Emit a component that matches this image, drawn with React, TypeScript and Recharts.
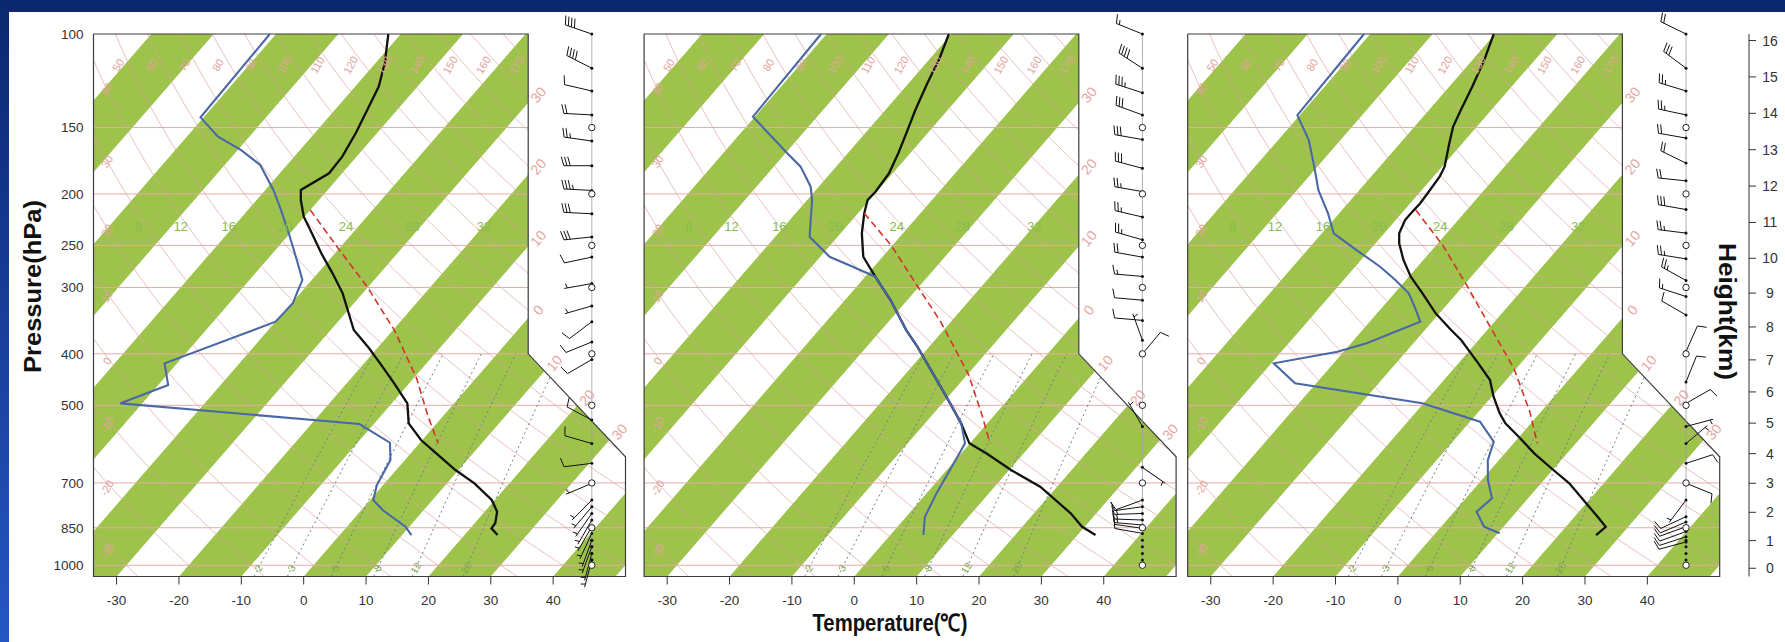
import React from 'react';
import { ComposedChart, XAxis, YAxis, Line, Area, Scatter } from 'recharts';

// ---------- axes ----------
const pressureTicks = [100, 150, 200, 250, 300, 400, 500, 700, 850, 1000];
const temperatureTicks = [-30, -20, -10, 0, 10, 20, 30, 40];
const heightKm = [0, 1, 2, 3, 4, 5, 6, 7, 8, 9, 10, 11, 12, 13, 14, 15, 16];

// ---------- diagram background definitions ----------
const isobarLevels = [150, 200, 250, 300, 400, 500, 700, 850, 1000];
const greenBandStarts = [-100, -80, -60, -40, -20, 0, 20, 40];
const dryThetas = [-30, -20, -10, 0, 10, 20, 30, 40, 50, 60, 70, 80, 90, 100, 110, 120, 130, 140, 150, 160, 170];
const mixingRatios = [2, 3, 5, 8, 12, 20];
const moistLabels = [8, 12, 16, 20, 24, 28, 32];
const moistLabelX = [-26.5, -19.7, -12.0, -3.0, 6.8, 17.4, 28.9];
const edgeIsotherms = [-30, -20, -10, 0, 10, 20, 30];
const mandatoryLevels = [150, 200, 250, 300, 400, 500, 700, 850, 1000];
const lowDots = [897, 923, 950, 978, 1000];

// ---------- sounding 1 ----------
const s1TempP = [100, 113.5, 125.7, 139, 153.8, 170.2, 182.9, 196.6, 205.4, 220.8, 237.2, 258.7, 282.2, 307.7, 360.8, 390.5, 422.9, 454.5, 495.7, 540.6, 581.1, 615.6, 661.8, 701.1, 753.8, 793, 833.8, 852.1, 877.2];
const s1TempT = [-62.0, -58.5, -56.2, -54.8, -53.4, -52.3, -52.1, -54.3, -52.9, -50.1, -46.5, -42.2, -37.6, -33.2, -26.3, -21.3, -16.6, -12.4, -7.5, -4.5, -0.2, 4.1, 9.5, 14.4, 19.5, 22.0, 23.3, 23.4, 25.3];
const s1DewP = [100, 143.5, 156.1, 165.3, 176.4, 196.6, 214.4, 237.2, 266.3, 290.5, 303.3, 321.3, 348, 416.8, 457.9, 495.7, 542.2, 588, 634, 706.3, 753.8, 787.2, 846.4, 877.2];
const s1DewT = [-81.0, -80.5, -75.0, -69.5, -64.3, -58.7, -54.7, -50.2, -45.2, -41.5, -40.8, -39.8, -40.0, -52.0, -48.4, -53.5, -12.3, -4.8, -2.3, -1.0, 0.5, 3.4, 9.4, 11.5];
const s1ParcelP = [214.4, 251.4, 299, 360.8, 444.8, 525.3, 589.5];
const s1ParcelT = [-50.0, -40.6, -30.2, -19.8, -9.5, -2.3, 3.0];
const s1BarbP = [100, 116, 128, 142, 159, 177, 197, 218, 241, 263, 295, 325, 348, 380, 410, 533, 590, 643, 701, 754, 776, 799, 822, 846, 871, 897, 923, 950, 978];
const s1BarbDir = [289, 297, 283, 273, 278, 270, 273, 273, 264, 258, 260, 254, 233, 248, 240, 298, 286, 263, 247, 225, 220, 215, 210, 210, 205, 200, 200, 195, 195];
const s1BarbSpd = [40, 40, 10, 20, 25, 30, 35, 30, 30, 10, 5, 5, 10, 10, 10, 10, 10, 10, 5, 5, 5, 5, 5, 5, 5, 5, 5, 5, 5];

// ---------- sounding 2 ----------
const s2TempP = [100, 111.9, 123.8, 139, 153.8, 167.7, 182.9, 198.1, 205.4, 217.5, 237.2, 262.6, 286.3, 316.8, 360.8, 387.8, 435.3, 488.7, 540.6, 589.5, 615.6, 661.8, 711.5, 798.5, 846.4, 877.2];
const s2TempT = [-60.4, -58.4, -57.0, -55.2, -53.4, -51.9, -50.6, -50.2, -50.3, -49.0, -46.6, -43.1, -38.4, -32.7, -26.0, -21.9, -15.7, -9.5, -4.2, -0.1, 4.0, 10.3, 17.3, 25.9, 29.6, 32.9];
const s2DewP = [100, 143.1, 153.8, 167.7, 177.7, 193.8, 205.4, 240.8, 262.6, 274.2, 286.3, 316.8, 360.8, 387.8, 435.3, 488.7, 540.6, 589.5, 615.6, 661.8, 732.2, 810.4, 877.2];
const s2DewT = [-80.9, -80.3, -75.5, -69.7, -65.7, -61.3, -59.2, -54.5, -48.5, -43.4, -38.4, -32.7, -26.0, -21.9, -15.7, -9.5, -4.2, -0.8, -0.3, 0.5, 1.6, 3.0, 5.3];
const s2ParcelP = [217.5, 249.6, 299, 347, 438.5, 525.3, 589.5];
const s2ParcelT = [-49.0, -40.3, -30.2, -21.8, -9.7, -1.7, 3.2];
const s2BarbP = [100, 116, 129, 142, 158, 179, 198, 221, 244, 263, 286, 317, 346, 377, 400, 548, 654, 754, 776, 799, 822, 840, 852, 871];
const s2BarbDir = [292, 303, 288, 290, 280, 285, 280, 283, 286, 280, 275, 275, 275, 340, 40, 330, 125, 250, 262, 268, 272, 275, 278, 280];
const s2BarbSpd = [15, 40, 35, 30, 30, 30, 25, 25, 25, 20, 15, 10, 10, 5, 10, 5, 5, 10, 10, 15, 15, 15, 10, 10];

// ---------- sounding 3 ----------
const s3TempP = [100, 111.9, 125.7, 139, 149.5, 160.6, 177.7, 185.6, 196.6, 208.3, 217.5, 224, 237.2, 247.8, 266.3, 286.3, 307.7, 335.6, 360.8, 376.7, 416.8, 448.1, 481.7, 517.7, 540.6, 572.9, 615.6, 661.8, 701.1, 764.7, 810.4, 846.4, 877.2];
const s3TempT = [-60.2, -58.1, -56.3, -54.9, -53.8, -52.1, -49.6, -49.0, -48.7, -48.4, -48.5, -48.5, -47.6, -46.2, -43.2, -39.7, -35.5, -30.6, -25.8, -22.8, -16.8, -12.6, -9.7, -6.4, -4.1, -0.1, 4.7, 10.1, 14.5, 20.0, 23.7, 26.4, 26.0];
const s3DewP = [100, 142.1, 158.3, 177.7, 196.6, 217.5, 237.2, 255.1, 274.2, 290.5, 307.7, 326.1, 348, 382.2, 396.4, 416.8, 454.5, 495.7, 536.8, 585.5, 634, 691.2, 748.3, 793, 846.4, 870.8];
const s3DewT = [-81.0, -80.4, -75.1, -70.5, -66.6, -61.8, -58.1, -52.1, -46.0, -41.7, -37.7, -34.9, -31.9, -37.5, -41.0, -49.6, -43.4, -20.2, -8.4, -3.4, -1.8, 1.0, 4.2, 3.6, 6.9, 10.3];
const s3ParcelP = [214.4, 249.6, 299, 353, 425.9, 514, 589.5];
const s3ParcelT = [-48.2, -39.0, -29.2, -20.4, -10.4, -1.8, 3.8];
const s3BarbP = [100, 116, 128, 142, 157, 175, 189, 214, 237, 265, 291, 312, 338, 396, 452, 496, 548, 590, 643, 701, 754, 810, 829, 846, 864, 884, 904];
const s3BarbDir = [296, 307, 287, 282, 280, 296, 276, 280, 277, 279, 299, 288, 300, 24, 22, 60, 75, 50, 72, 112, 217, 245, 247, 250, 250, 252, 255];
const s3BarbSpd = [20, 30, 25, 25, 20, 20, 20, 30, 25, 25, 25, 15, 10, 10, 10, 10, 5, 5, 10, 10, 5, 10, 10, 10, 10, 10, 10];

// ---------- skew-T geometry ----------
type Pt = { x: number; u: number };
const P_TOP = 100, P_BOT = 1050, P_NOTCH = 400, P_DIAG = 625;
const X_MIN = -33.7, X_NOTCH = 36, X_MAX = 51.6;
const SKEW = 32.14;
const STAFF_X = 46.2;
const PX_PER_DEG = 532 / (X_MAX - X_MIN);
const U_TOP = Math.log(P_TOP), U_BOT = Math.log(P_BOT), U_NOTCH = Math.log(P_NOTCH), U_DIAG = Math.log(P_DIAG);
const DIAG_K = (X_MAX - X_NOTCH) / (U_DIAG - U_NOTCH);
const FONT = '"Liberation Sans", Arial, Helvetica, sans-serif';

const skewX = (t: number, p: number) => t + SKEW * Math.log(P_BOT / p);
const tempOf = (q: Pt) => q.x - SKEW * (U_BOT - q.u);
const rightEdge = (u: number) => (u <= U_NOTCH ? X_NOTCH : u >= U_DIAG ? X_MAX : X_NOTCH + DIAG_K * (u - U_NOTCH));
const inside = (q: Pt) =>
  q.u >= U_TOP - 1e-9 && q.u <= U_BOT + 1e-9 && q.x >= X_MIN - 1e-9 && q.x <= rightEdge(q.u) + 1e-9;
const clampP = (p: number) => Math.min(P_BOT, Math.max(P_TOP, p));
const datum = (q: Pt) => ({ x: Math.max(X_MIN, q.x), p: clampP(Math.exp(q.u)) });

const dryT = (theta: number, p: number) => (theta + 273.15) * Math.pow(p / 1000, 0.2857) - 273.15;
const mixT = (w: number, p: number) => {
  const e = (w * p) / (622 + w);
  const l = Math.log(e / 6.112);
  return (243.5 * l) / (17.67 - l);
};
const kmToP = (z: number) =>
  z <= 11 ? 1013.25 * Math.pow(1 - 2.25577e-5 * z * 1000, 5.25588) : 226.32 * Math.exp(-((z - 11) * 1000) / 6341.6);

function sampleCurve(tOf: (p: number) => number, pA: number, pB: number, n: number): Pt[] {
  const pts: Pt[] = [];
  const u0 = Math.log(pA), u1 = Math.log(pB);
  for (let i = 0; i <= n; i++) {
    const u = u0 + ((u1 - u0) * i) / n;
    const p = Math.exp(u);
    pts.push({ x: skewX(tOf(p), p), u });
  }
  return pts;
}

function clipPolyline(pts: Pt[]): Pt[][] {
  const runs: Pt[][] = [];
  let cur: Pt[] = [];
  for (let i = 0; i < pts.length; i++) {
    const pin = inside(pts[i]);
    if (i > 0) {
      const prevIn = inside(pts[i - 1]);
      if (pin !== prevIn) {
        let a = pts[i - 1], b = pts[i];
        for (let k = 0; k < 30; k++) {
          const m = { x: (a.x + b.x) / 2, u: (a.u + b.u) / 2 };
          if (inside(m) === prevIn) a = m; else b = m;
        }
        if (prevIn) { cur.push(a); runs.push(cur); cur = []; }
        else cur = [b];
      }
    }
    if (pin) cur.push(pts[i]);
  }
  if (cur.length > 1) runs.push(cur);
  return runs.filter((r) => r.length > 1);
}

function clipHalf(poly: Pt[], f: (q: Pt) => number): Pt[] {
  const out: Pt[] = [];
  for (let i = 0; i < poly.length; i++) {
    const a = poly[i], b = poly[(i + 1) % poly.length];
    const fa = f(a), fb = f(b);
    if (fa >= 0) out.push(a);
    if ((fa >= 0) !== (fb >= 0)) {
      const t = fa / (fa - fb);
      out.push({ x: a.x + t * (b.x - a.x), u: a.u + t * (b.u - a.u) });
    }
  }
  return out;
}

function polyToArea(poly: Pt[]) {
  const xs = Array.from(new Set(poly.map((q) => Math.round(q.x * 1e6) / 1e6))).sort((a, b) => a - b);
  return xs.map((x) => {
    const us: number[] = [];
    for (let i = 0; i < poly.length; i++) {
      const a = poly[i], b = poly[(i + 1) % poly.length];
      if (x < Math.min(a.x, b.x) - 1e-6 || x > Math.max(a.x, b.x) + 1e-6) continue;
      if (Math.abs(b.x - a.x) < 1e-9) us.push(a.u, b.u);
      else us.push(a.u + ((x - a.x) / (b.x - a.x)) * (b.u - a.u));
    }
    return { x: Math.max(X_MIN, x), p: [clampP(Math.exp(Math.min(...us))), clampP(Math.exp(Math.max(...us)))] };
  });
}

const pieceA: Pt[] = [
  { x: X_MIN, u: U_TOP }, { x: X_NOTCH, u: U_TOP }, { x: X_NOTCH, u: U_BOT }, { x: X_MIN, u: U_BOT },
];
const pieceB: Pt[] = [
  { x: X_NOTCH - 0.1, u: U_NOTCH }, { x: X_MAX, u: U_DIAG }, { x: X_MAX, u: U_BOT }, { x: X_NOTCH - 0.1, u: U_BOT },
];

const bandAreas = greenBandStarts
  .flatMap((a) =>
    [pieceA, pieceB].map((piece) => clipHalf(clipHalf(piece, (q) => tempOf(q) - a), (q) => a + 10 - tempOf(q)))
  )
  .filter((poly) => poly.length >= 3)
  .map(polyToArea);

const isobarLines = isobarLevels.map((p) => [{ x: X_MIN, p }, { x: rightEdge(Math.log(p)), p }]);
const dryRuns = dryThetas.flatMap((th) => clipPolyline(sampleCurve((p) => dryT(th, p), P_BOT, P_TOP, 140)).map((r) => r.map(datum)));
const mixRuns = mixingRatios.flatMap((w) => clipPolyline(sampleCurve((p) => mixT(w, p), P_BOT, 400, 40)).map((r) => r.map(datum)));
const frameData = [
  { x: X_MIN, p: P_TOP }, { x: X_NOTCH, p: P_TOP }, { x: X_NOTCH, p: P_NOTCH }, { x: X_MAX, p: P_DIAG },
  { x: X_MAX, p: P_BOT }, { x: X_MIN, p: P_BOT }, { x: X_MIN, p: P_TOP },
];
const staffData = [{ x: STAFF_X, p: 100 }, { x: STAFF_X, p: 1000 }];

// labels
const moistLabelData = moistLabels.map((v, i) => ({ x: moistLabelX[i], p: 230, text: String(v) }));
const mixLabelData = mixingRatios.map((w) => ({ x: skewX(mixT(w, 1012), 1012), p: 1012, text: String(w) }));
const topLabelData = dryThetas
  .map((th) => ({ x: skewX(dryT(th, 110), 110) - 1.1, p: 110, text: String(th) }))
  .filter((d) => d.x > X_MIN + 1 && d.x < X_NOTCH - 1.5);
const leftLabelData = dryThetas
  .map((th) => {
    const target = X_MIN + 1.2;
    const f = (u: number) => skewX(dryT(th, Math.exp(u)), Math.exp(u)) - target;
    if (f(U_TOP) * f(U_BOT) > 0) return null;
    let lo = U_TOP, hi = U_BOT;
    for (let k = 0; k < 40; k++) {
      const m = (lo + hi) / 2;
      if (f(lo) * f(m) <= 0) hi = m; else lo = m;
    }
    return { x: target, p: clampP(Math.exp(lo)), text: String(th) };
  })
  .filter((d) => d !== null && d.p > 120 && d.p < 1000) as { x: number; p: number; text: string }[];
const edgeLabelData = edgeIsotherms.map((t) => {
  let u = U_BOT - (X_NOTCH - t) / SKEW;
  let x = X_NOTCH;
  if (u > U_NOTCH) {
    u = (t + SKEW * U_BOT - X_NOTCH + DIAG_K * U_NOTCH) / (DIAG_K + SKEW);
    x = X_NOTCH + DIAG_K * (u - U_NOTCH);
  }
  return { x, p: Math.exp(u), text: String(Math.abs(t)) };
});
const heightTickP = heightKm.map(kmToP);

const profile = (ps: number[], ts: number[]) => ps.map((p, i) => ({ x: skewX(ts[i], p), p }));
const barbs = (ps: number[], ds: number[], ss: number[]) => ps.map((p, i) => ({ x: STAFF_X, p, dir: ds[i], spd: ss[i] }));

const soundings = [
  { temp: profile(s1TempP, s1TempT), dew: profile(s1DewP, s1DewT), parcel: profile(s1ParcelP, s1ParcelT), barbs: barbs(s1BarbP, s1BarbDir, s1BarbSpd) },
  { temp: profile(s2TempP, s2TempT), dew: profile(s2DewP, s2DewT), parcel: profile(s2ParcelP, s2ParcelT), barbs: barbs(s2BarbP, s2BarbDir, s2BarbSpd) },
  { temp: profile(s3TempP, s3TempT), dew: profile(s3DewP, s3DewT), parcel: profile(s3ParcelP, s3ParcelT), barbs: barbs(s3BarbP, s3BarbDir, s3BarbSpd) },
];

// ---------- shapes ----------
const textShape = (fill: string, size: number, rot: number, dx: number, dy: number) => (props: any) => {
  const { cx, cy, payload } = props;
  if (cx == null || cy == null) return <g />;
  const x = cx + dx, y = cy + dy;
  return (
    <text x={x} y={y} fill={fill} fontSize={size} fontFamily={FONT} textAnchor="middle" dominantBaseline="central"
      transform={rot ? `rotate(${rot} ${x} ${y})` : undefined}>
      {payload.text}
    </text>
  );
};

const BarbShape = (props: any) => {
  const { cx, cy, payload } = props;
  if (cx == null || cy == null) return <g />;
  const rad = (payload.dir * Math.PI) / 180;
  const sx = Math.sin(rad), sy = -Math.cos(rad);
  const bx = -sy, by = sx;
  const L = 28;
  const tx = cx + sx * L, ty = cy + sy * L;
  const els: React.ReactNode[] = [<line key="s" x1={cx} y1={cy} x2={tx} y2={ty} />];
  let rest = Math.round(payload.spd / 5) * 5;
  let pos = 0;
  let k = 0;
  while (rest >= 50) {
    const ax = tx - sx * pos, ay = ty - sy * pos;
    const cx2 = tx - sx * (pos + 5), cy2 = ty - sy * (pos + 5);
    els.push(<polygon key={'f' + k++} points={`${ax},${ay} ${ax + bx * 9},${ay + by * 9} ${cx2},${cy2}`} fill="#111" />);
    pos += 6;
    rest -= 50;
  }
  while (rest >= 10) {
    const ax = tx - sx * pos, ay = ty - sy * pos;
    els.push(<line key={'f' + k++} x1={ax} y1={ay} x2={ax + bx * 9 + sx * 2.5} y2={ay + by * 9 + sy * 2.5} />);
    pos += 3.2;
    rest -= 10;
  }
  if (rest >= 5) {
    if (pos === 0) pos = 3.2;
    const ax = tx - sx * pos, ay = ty - sy * pos;
    els.push(<line key={'f' + k++} x1={ax} y1={ay} x2={ax + bx * 4.5 + sx * 1.2} y2={ay + by * 4.5 + sy * 1.2} />);
  }
  return <g stroke="#111" strokeWidth={1} fill="none">{els}</g>;
};

const DotShape = (props: any) =>
  props.cx == null ? <g /> : <circle cx={props.cx} cy={props.cy} r={1.5} fill="#111" />;
const RingShape = (props: any) =>
  props.cx == null ? <g /> : <circle cx={props.cx} cy={props.cy} r={3.2} fill="#fff" stroke="#222" strokeWidth={1} />;

const HeightTick = (props: any) => {
  const idx = props.index ?? props.payload?.index ?? 0;
  return (
    <text x={props.x + 12} y={props.y} textAnchor="middle" dominantBaseline="central" fontSize={14} fill="#333" fontFamily={FONT}>
      {heightKm[idx]}
    </text>
  );
};

const moistShape = textShape('#86bb4f', 13, 0, 0, 0);
const mixShape = textShape('#78a948', 10, -60, 0, 0);
const topShape = textShape('#e2a39d', 11, -60, 0, 9);
const leftShape = textShape('#e2a39d', 11, -60, 6, 12);
const edgeShape = textShape('#e6a59f', 14, -50, 10, -8);

// ---------- panel ----------
type PanelProps = {
  divLeft: number;
  width: number;
  marginLeft: number;
  marginRight: number;
  xRight: number;
  sounding: any;
  showPressure?: boolean;
  showHeight?: boolean;
};

function SkewPanel({ divLeft, width, marginLeft, marginRight, xRight, sounding, showPressure, showHeight }: PanelProps) {
  const line = { dot: false, activeDot: false, isAnimationActive: false, type: 'linear' as const, dataKey: 'p', legendType: 'none' as const };
  return (
    <div style={{ position: 'absolute', left: divLeft, top: 0 }}>
      <ComposedChart width={width} height={642} margin={{ top: 34, right: marginRight, bottom: 35.5, left: marginLeft }}>
        <XAxis type="number" dataKey="x" domain={[X_MIN, xRight]} ticks={temperatureTicks} interval={0} axisLine={false}
          tickSize={8} tickMargin={11} height={30} tickLine={{ stroke: '#333' }}
          tick={{ fontSize: 13.5, fill: '#333', fontFamily: FONT }} />
        <YAxis type="number" dataKey="p" scale="log" domain={[P_TOP, P_BOT]} reversed ticks={pressureTicks} interval={0}
          hide={!showPressure} width={60} axisLine={false} tickLine={false} tickSize={6} tickMargin={4}
          tick={{ fontSize: 13.5, fill: '#333', fontFamily: FONT }} />
        {showHeight && (
          <YAxis yAxisId="h" orientation="right" type="number" dataKey="p" scale="log" domain={[P_TOP, P_BOT]} reversed
            ticks={heightTickP} interval={0} width={36} tickSize={7} tickMargin={2}
            axisLine={{ stroke: '#333' }} tickLine={{ stroke: '#333' }} tick={HeightTick} />
        )}

        {bandAreas.map((d, i) => (
          <Area key={'band' + i} data={d} dataKey="p" type="linear" fill="#9dc34b" fillOpacity={1} stroke="none"
            dot={false} activeDot={false} isAnimationActive={false} legendType="none" />
        ))}
        {isobarLines.map((d, i) => (
          <Line key={'iso' + i} {...line} data={d} stroke="#e7aaa6" strokeWidth={1} />
        ))}
        {dryRuns.map((d, i) => (
          <Line key={'dry' + i} {...line} data={d} stroke="#dfa09c" strokeWidth={0.8} strokeOpacity={0.85} />
        ))}
        {mixRuns.map((d, i) => (
          <Line key={'mix' + i} {...line} data={d} stroke="#6c7f8a" strokeWidth={1} strokeDasharray="2 3" />
        ))}
        <Line {...line} data={frameData} stroke="#3d3d3d" strokeWidth={1.2} />
        <Line {...line} data={staffData} yAxisId={showHeight ? 'h' : 0} stroke="#a0a0a0" strokeWidth={0.8} />

        <Line {...line} data={sounding.temp} stroke="#111111" strokeWidth={2.3} />
        <Line {...line} data={sounding.dew} stroke="#4a68a6" strokeWidth={2.1} />
        <Line {...line} data={sounding.parcel} stroke="#d2342a" strokeWidth={1.6} strokeDasharray="7 4" />

        <Scatter data={moistLabelData} dataKey="p" shape={moistShape} isAnimationActive={false} legendType="none" />
        <Scatter data={mixLabelData} dataKey="p" shape={mixShape} isAnimationActive={false} legendType="none" />
        <Scatter data={topLabelData} dataKey="p" shape={topShape} isAnimationActive={false} legendType="none" />
        <Scatter data={leftLabelData} dataKey="p" shape={leftShape} isAnimationActive={false} legendType="none" />
        <Scatter data={edgeLabelData} dataKey="p" shape={edgeShape} isAnimationActive={false} legendType="none" />

        <Scatter data={sounding.barbs} dataKey="p" shape={BarbShape} isAnimationActive={false} legendType="none" />
        <Scatter data={sounding.barbs} dataKey="p" shape={DotShape} isAnimationActive={false} legendType="none" />
        <Scatter data={lowDots.map((p) => ({ x: STAFF_X, p }))} dataKey="p" shape={DotShape} isAnimationActive={false} legendType="none" />
        <Scatter data={mandatoryLevels.map((p) => ({ x: STAFF_X, p }))} dataKey="p" shape={RingShape} isAnimationActive={false} legendType="none" />
      </ComposedChart>
    </div>
  );
}

export default function App() {
  return (
    <div style={{ position: 'absolute', left: 0, top: 0, width: 1785, height: 642, overflow: 'hidden', background: '#ffffff' }}>
      <div style={{ position: 'absolute', left: 0, top: 0, width: 1785, height: 12, background: '#0b2770' }} />
      <div style={{ position: 'absolute', left: 0, top: 0, width: 9, height: 642, background: 'linear-gradient(#0b2770, #2556c2)' }} />

      <SkewPanel divLeft={0} width={640} marginLeft={33.5} marginRight={14.5} xRight={X_MAX} sounding={soundings[0]} showPressure />
      <SkewPanel divLeft={600} width={600} marginLeft={44.1} marginRight={23.9} xRight={X_MAX} sounding={soundings[1]} />
      <SkewPanel divLeft={1150} width={635} marginLeft={37.7} marginRight={0} xRight={X_MIN + 561.3 / PX_PER_DEG}
        sounding={soundings[2]} showHeight />

      <svg width={1785} height={642} style={{ position: 'absolute', left: 0, top: 0, pointerEvents: 'none' }}>
        <text transform="translate(32,286.5) rotate(-90)" textAnchor="middle" dominantBaseline="central" fontSize={24}
          fontWeight="bold" fontFamily={FONT} fill="#111" textLength={173} lengthAdjust="spacingAndGlyphs">
          Pressure(hPa)
        </text>
        <text x={890} y={622} textAnchor="middle" dominantBaseline="central" fontSize={24} fontWeight="bold"
          fontFamily={FONT} fill="#111" textLength={155} lengthAdjust="spacingAndGlyphs">
          Temperature(℃)
        </text>
        <text transform="translate(1727,311.5) rotate(90)" textAnchor="middle" dominantBaseline="central" fontSize={24}
          fontWeight="bold" fontFamily={FONT} fill="#111" textLength={137} lengthAdjust="spacingAndGlyphs">
          Height(km)
        </text>
      </svg>
    </div>
  );
}
